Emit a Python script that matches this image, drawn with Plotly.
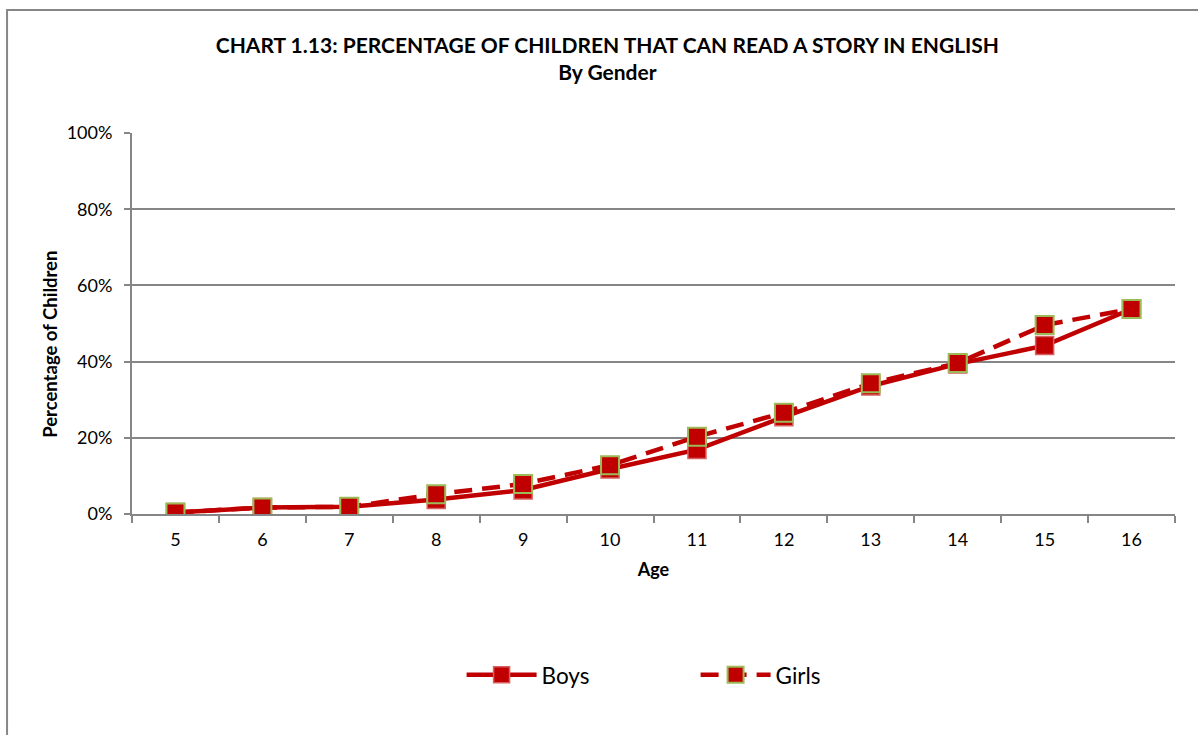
import plotly.graph_objects as go

# Data: share of children able to read a story in English, by age and gender
ages = [5, 6, 7, 8, 9, 10, 11, 12, 13, 14, 15, 16]
boys = [0.4, 1.7, 1.9, 3.8, 6.3, 11.8, 16.9, 25.5, 33.6, 39.4, 44.2, 53.8]
girls = [0.4, 1.7, 1.9, 5.2, 7.9, 12.8, 20.3, 26.6, 34.3, 39.6, 49.6, 53.8]
y_ticks = [0, 20, 40, 60, 80, 100]
y_tick_labels = ["0%", "20%", "40%", "60%", "80%", "100%"]

FONT = "Lato, 'Open Sans', sans-serif"
RED = "#C00000"
GRID = "#868686"

fig = go.Figure()

fig.add_trace(go.Scatter(
    x=ages, y=boys, name="Boys", mode="lines+markers",
    line=dict(color=RED, width=4.5),
    marker=dict(symbol="square", size=18, color=RED,
                line=dict(color="#D66060", width=1.5)),
))
fig.add_trace(go.Scatter(
    x=ages, y=girls, name="Girls", mode="lines+markers",
    line=dict(color=RED, width=4.5, dash="18px,10px"),
    marker=dict(symbol="square", size=18, color=RED,
                line=dict(color="#9BBB59", width=2)),
))

# Chart frame
fig.add_shape(type="rect", xref="paper", yref="paper",
              x0=-0.1198, x1=1.03, y0=-0.62, y1=1.3228,
              line=dict(color=GRID, width=2), fillcolor="rgba(0,0,0,0)",
              layer="below")

# Vertical axis title, placed slightly below the plot centre
fig.add_annotation(
    text="<b>Percentage of Children</b>", textangle=-90,
    xref="paper", yref="paper", x=-0.0786, y=0.444,
    xanchor="center", yanchor="middle", showarrow=False,
    font=dict(family=FONT, size=18.5, color="black"),
)

fig.update_layout(
    width=1198, height=735,
    margin=dict(l=132, r=23, t=133, b=221),
    paper_bgcolor="white", plot_bgcolor="white",
    font=dict(family=FONT, color="black", size=18),
    title=dict(
        text="CHART 1.13: PERCENTAGE OF CHILDREN THAT CAN READ A STORY IN ENGLISH<br>By Gender",
        x=0.507, xanchor="center", y=0.928, yanchor="top",
        font=dict(family=FONT, size=21, color="black", weight="bold"),
    ),
    xaxis=dict(
        range=[4.5, 16.5], tickvals=ages, ticktext=[str(a) for a in ages],
        ticks="", showgrid=False, zeroline=False,
        showline=True, linecolor=GRID, linewidth=2,
        minor=dict(tick0=4.5, dtick=1, ticks="outside", ticklen=7,
                   tickcolor=GRID, tickwidth=2, showgrid=False),
        title=dict(text="<b>Age</b>", font=dict(family=FONT, size=18), standoff=15),
        tickfont=dict(family=FONT, size=18),
        ticklabelstandoff=8,
    ),
    yaxis=dict(
        range=[0, 100], tickvals=y_ticks, ticktext=y_tick_labels,
        ticks="outside", ticklen=6, tickcolor=GRID, tickwidth=2,
        showgrid=True, gridcolor=GRID, gridwidth=1.5, zeroline=False,
        showline=True, linecolor=GRID, linewidth=2,
        tickfont=dict(family=FONT, size=18),
        ticklabelstandoff=8,
    ),
    legend=dict(
        orientation="h", x=0.316, xanchor="left", y=-0.423, yanchor="middle",
        font=dict(family=FONT, size=22.5), itemwidth=70, tracegroupgap=0,
        entrywidth=149,
    ),
    showlegend=True,
)

fig.write_html("out.html")
